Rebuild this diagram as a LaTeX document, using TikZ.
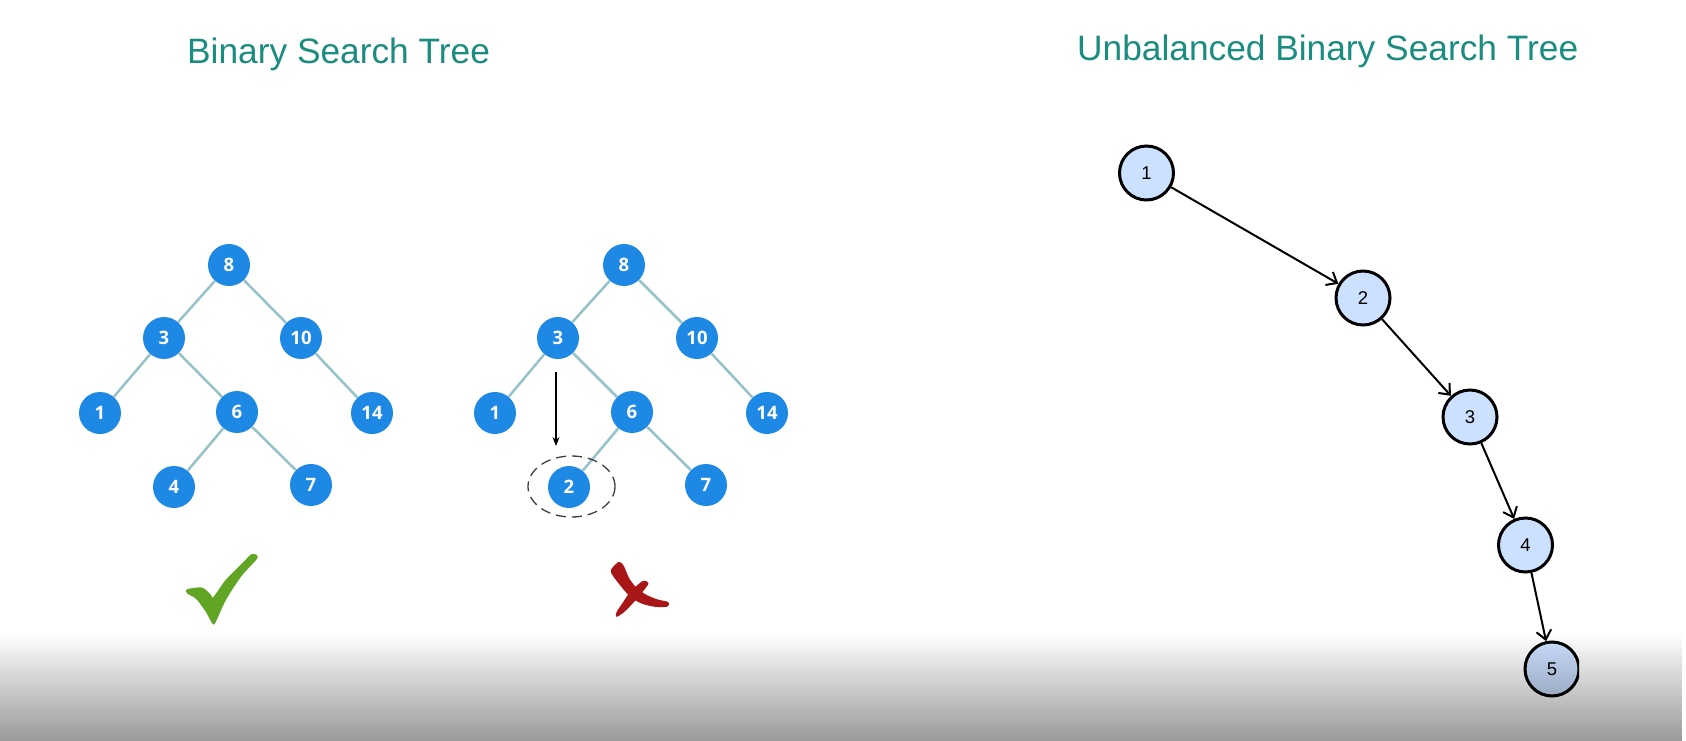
\documentclass[tikz,border=0pt]{standalone}
\usepackage{fontspec}
\setmainfont{Liberation Sans}
\newfontfamily\keyfont{Open Sans}
\usetikzlibrary{arrows.meta,fadings,shapes.geometric}

\definecolor{titleteal}{RGB}{27,140,128}
\definecolor{bstblue}{RGB}{30,136,229}
\definecolor{bstedge}{RGB}{150,194,200}
\definecolor{chainfill}{RGB}{204,224,255}
\definecolor{okgreen}{RGB}{96,165,36}
\definecolor{badred}{RGB}{168,22,24}
\definecolor{ringgray}{RGB}{64,64,64}

\tikzfading[name=shadeup, top color=transparent!100, bottom color=transparent!0]

\tikzset{
  heading/.style={anchor=base west, text=titleteal, inner sep=0pt,
    font=\fontsize{35.3}{35.3}\selectfont},
  bnode/.style={circle, fill=bstblue, minimum size=42pt, inner sep=0pt,
    text=white, font=\keyfont\bfseries\fontsize{18.5}{18.5}\selectfont},
  bedge/.style={draw=bstedge, line width=2.5pt},
  cnode/.style={circle, draw=black, line width=3pt, fill=chainfill,
    minimum size=54pt, inner sep=0pt, font=\fontsize{18.5}{18.5}\selectfont},
  cedge/.style={draw=black, line width=2pt,
    -{Straight Barb[length=9pt,width=15pt,line width=2pt]}},
  probe/.style={draw=black, line width=1.3pt,
    -{Stealth[length=9pt,width=7pt]}},
  ring/.style={ellipse, draw=ringgray, line width=1.3pt,
    dash pattern=on 10pt off 6pt, minimum width=87pt, minimum height=61pt,
    inner sep=0pt},
  brush/.style={fill=#1, draw=#1, line width=1.6pt, line join=round},
}

\begin{document}
\begin{tikzpicture}[x=1pt,y=-1pt]
  \useasboundingbox (0,0) rectangle (1686,741);
  \fill[white] (0,0) rectangle (1686,741);

  % headings
  \node[heading] (t1) at (187,63.5) {Binary Search Tree};
  \node[heading] (t2) at (1077,60.5) {Unbalanced Binary Search Tree};

  % valid binary search tree
  \node[bnode] (a8)  at (229,265) {8};
  \node[bnode] (a3)  at (164,338) {3};
  \node[bnode] (a10) at (301,338) {10};
  \node[bnode] (a1)  at (100,413) {1};
  \node[bnode] (a6)  at (237,412) {6};
  \node[bnode] (a14) at (372,413) {14};
  \node[bnode] (a4)  at (174,487) {4};
  \node[bnode] (a7)  at (311,485) {7};
  \draw[bedge] (a8) -- (a3);
  \draw[bedge] (a8) -- (a10);
  \draw[bedge] (a3) -- (a1);
  \draw[bedge] (a3) -- (a6);
  \draw[bedge] (a10) -- (a14);
  \draw[bedge] (a6) -- (a4);
  \draw[bedge] (a6) -- (a7);

  % invalid tree: 2 placed below 6
  \node[bnode] (b8)  at (624,265) {8};
  \node[bnode] (b3)  at (558,338) {3};
  \node[bnode] (b10) at (697,338) {10};
  \node[bnode] (b1)  at (495,413) {1};
  \node[bnode] (b6)  at (632,412) {6};
  \node[bnode] (b14) at (767,413) {14};
  \node[bnode] (b2)  at (569,487) {2};
  \node[bnode] (b7)  at (706,485) {7};
  \draw[bedge] (b8) -- (b3);
  \draw[bedge] (b8) -- (b10);
  \draw[bedge] (b3) -- (b1);
  \draw[bedge] (b3) -- (b6);
  \draw[bedge] (b10) -- (b14);
  \draw[bedge] (b6) -- (b2);
  \draw[bedge] (b6) -- (b7);
  \node[ring] (ring) at (571.5,486.5) {};
  \coordinate (p0) at (556,372);
  \coordinate (p1) at (556,446);
  \draw[probe] (p0) -- (p1);

  % check mark
  \filldraw[brush=okgreen] plot[smooth cycle, tension=0.45] coordinates {
    (187.3,590) (201.7,588.3) (210,595) (213.3,598.3) (226.7,580)
    (243.3,563.3) (251.7,555) (256.7,556) (255,560) (240,576.7)
    (225,600) (215,621.7) (212.7,622.7) (206.7,611.7) (196.7,598.3)
    (188.3,593.3)};

  % cross mark
  \filldraw[brush=badred] plot[smooth cycle, tension=0.45] coordinates {
    (611.7,570) (619,562.7) (623.3,566.7) (628.3,578.3) (635,587.3)
    (645,595) (656.7,600) (667.7,602.7) (666.7,606) (655,606)
    (643.3,603.3) (633.3,598.3) (625,590) (618.3,581.7) (613.3,575)};
  \filldraw[brush=badred] plot[smooth cycle, tension=0.45] coordinates {
    (643.3,581.7) (647.7,583.3) (641.7,591.7) (631.7,603.3) (623.3,611.7)
    (616.7,616) (617.7,611.7) (623.3,603.3) (630,593.3) (636.7,586.7)};

  % unbalanced chain
  \node[cnode] (c1) at (1146.5,173) {1};
  \node[cnode] (c2) at (1363,298) {2};
  \node[cnode] (c3) at (1470,417) {3};
  \node[cnode] (c4) at (1525.5,545) {4};
  \begin{scope}
    \clip (0,0) rectangle (1579,741);
    \node[cnode] (c5) at (1552,669) {5};
  \end{scope}
  \draw[cedge] (c1) -- (c2);
  \draw[cedge] (c2) -- (c3);
  \draw[cedge] (c3) -- (c4);
  \draw[cedge] (c4) -- (c5);

  % grey band along the bottom edge
  \fill[black, fill opacity=0.4, path fading=shadeup] (0,633) rectangle (1686,741);
\end{tikzpicture}
\end{document}
